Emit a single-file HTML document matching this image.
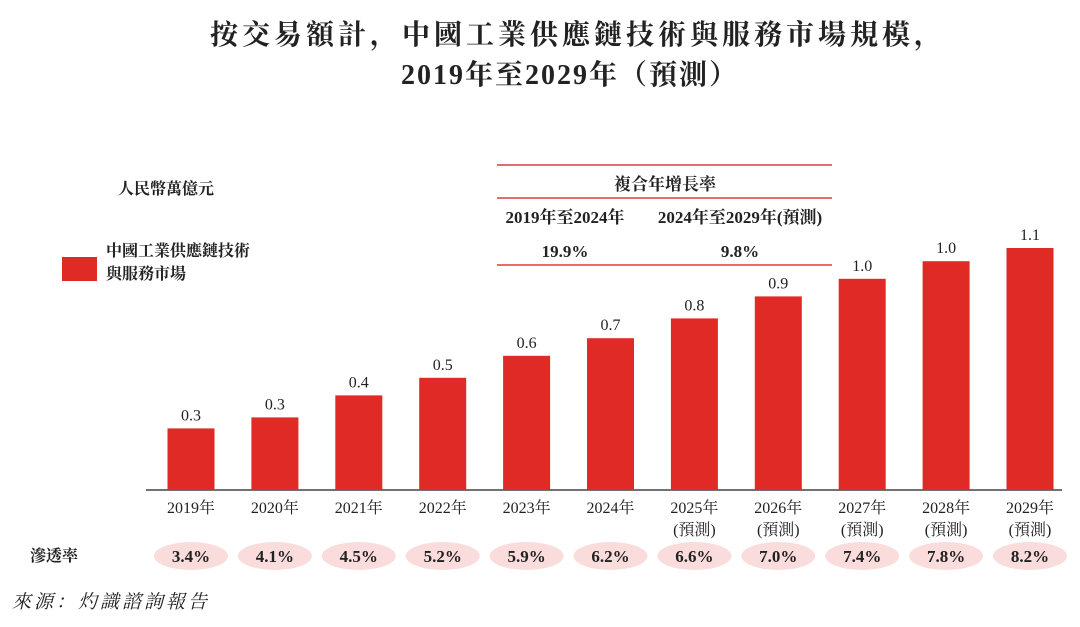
<!DOCTYPE html>
<html><head><meta charset="utf-8"><style>
body{margin:0;width:1080px;height:622px;background:#fff;overflow:hidden;font-family:"Liberation Serif","Noto Serif CJK SC",serif;}
svg text{font-family:"Liberation Serif","Noto Serif CJK SC",serif;}
</style></head><body>
<svg width="1080" height="622">
<text x="578" y="44" text-anchor="middle" font-size="28" font-weight="bold" letter-spacing="4" fill="#222" style="font-family:'Noto Serif CJK SC',serif">按交易額計，中國工業供應鏈技術與服務市場規模，</text>
<text x="570" y="84" text-anchor="middle" font-size="28" font-weight="bold" letter-spacing="2" fill="#222">2019年至2029年（預測）</text>
<text x="118" y="194" font-size="16" font-weight="bold" fill="#222">人民幣萬億元</text>
<rect x="62" y="257" width="35" height="24" fill="#e02a26"/>
<text x="106" y="256" font-size="16" font-weight="bold" fill="#222">中國工業供應鏈技術</text>
<text x="106" y="279" font-size="16" font-weight="bold" fill="#222">與服務市場</text>
<g>
<line x1="497" y1="165" x2="832" y2="165" stroke="#e0393a" stroke-width="1.5"/>
<line x1="497" y1="198" x2="832" y2="198" stroke="#e0393a" stroke-width="1.5"/>
<line x1="497" y1="265" x2="832" y2="265" stroke="#e0393a" stroke-width="1.5"/>
<text x="665" y="190" text-anchor="middle" font-size="17" font-weight="bold" fill="#222">複合年增長率</text>
<text x="565" y="223" text-anchor="middle" font-size="17" font-weight="bold" fill="#222">2019年至2024年</text>
<text x="740" y="223" text-anchor="middle" font-size="17" font-weight="bold" fill="#222">2024年至2029年(預測)</text>
<text x="565" y="257" text-anchor="middle" font-size="17" font-weight="bold" fill="#222">19.9%</text>
<text x="740" y="257" text-anchor="middle" font-size="17" font-weight="bold" fill="#222">9.8%</text>
</g>
<line x1="146" y1="490" x2="1062" y2="490" stroke="#444" stroke-width="1.5"/>
<g id="bars"></g>
<text x="30" y="561" font-size="16" font-weight="bold" fill="#222">滲透率</text>
<text x="12" y="608" font-size="19" font-style="italic" letter-spacing="3" fill="#222">來源：灼識諮詢報告</text>
</svg>
<script>
const years=["2019年","2020年","2021年","2022年","2023年","2024年","2025年","2026年","2027年","2028年","2029年"];
const forecast=[false,false,false,false,false,false,true,true,true,true,true];
const values=[0.28,0.33,0.43,0.51,0.61,0.69,0.78,0.88,0.96,1.04,1.10];
const valueLabels=["0.3","0.3","0.4","0.5","0.6","0.7","0.8","0.9","1.0","1.0","1.1"];
const penetration=["3.4%","4.1%","4.5%","5.2%","5.9%","6.2%","6.6%","7.0%","7.4%","7.8%","8.2%"];
const NS="http://www.w3.org/2000/svg";
const g=document.getElementById('bars');
const base=490,scale=220,x0=191,step=83.9,bw=47;
const xAt=i=>x0+i*step, yAt=v=>base-v*scale;
function mk(t,a,txt){const e=document.createElementNS(NS,t);for(const k in a)e.setAttribute(k,a[k]);if(txt!=null)e.textContent=txt;g.appendChild(e);return e;}
years.forEach((y,i)=>{
 const cx=xAt(i),top=yAt(values[i]);
 const r=mk('rect',{x:cx-bw/2,y:top,width:bw,height:base-top,fill:'#e02a26'});
 
 
 const l=mk('text',{x:cx,y:top-8,'text-anchor':'middle','font-size':16,fill:'#222'},valueLabels[i]);
 
 
 const t=mk('text',{x:cx,y:513,'text-anchor':'middle','font-size':16,fill:'#222'},y);
 
 
 if(forecast[i]){const f=mk('text',{x:cx,y:535,'text-anchor':'middle','font-size':16,fill:'#222'},'(預測)');
 
 }
 const el=mk('ellipse',{cx:cx,cy:556,rx:37,ry:14,fill:'#fadcdc'});
 
 
 const p=mk('text',{x:cx,y:562,'text-anchor':'middle','font-size':17,'font-weight':'bold',fill:'#222'},penetration[i]);
 
 
});
</script>
</body></html>
